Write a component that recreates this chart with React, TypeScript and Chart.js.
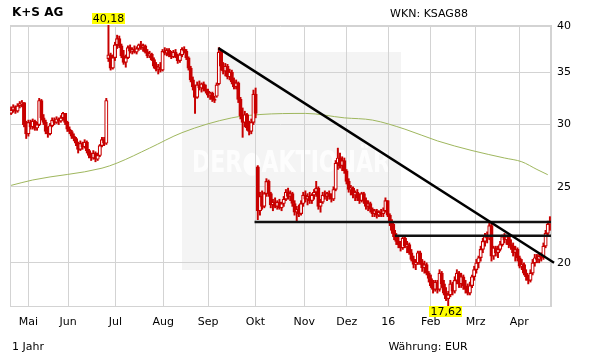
import React, { useEffect, useRef } from 'react';
import { Chart, registerables } from 'chart.js';

Chart.register(...registerables);

const FONT = '"DejaVu Sans", Verdana, sans-serif';

// ---- Data (trading-day index 0..249) ----
const opens = [
  31.0,31.3,31.6,31.2,31.7,31.9,32.0,30.0,29.2,30.2, 29.8,30.3,29.7,30.0,32.2,30.6,30.2,29.4,29.2,29.9,
  30.4,30.2,30.5,30.3,30.6,31.0,30.2,29.6,29.4,29.0, 28.8,28.4,27.9,28.4,28.1,28.5,27.8,27.4,27.2,27.6,
  27.1,27.4,28.2,28.7,28.4, 36.4,36.8,35.4,36.5,37.9,
  38.6,37.8,36.7,36.0,36.5,37.6,37.2,37.4,37.1,37.5, 37.9,37.6,37.8,37.1,36.7,36.9,36.3,35.6,35.3,35.5,
  35.2,37.2,37.0,37.3,36.8,36.6,37.1,36.7,36.2,36.8, 37.4,37.2,36.5,35.4,34.2,33.5,32.5,33.7,33.4,33.8,
  33.3,33.1,32.7,32.9,32.3,32.6,33.8,37.1,35.6,35.1, 35.6,34.5,35.0,34.0,33.5,33.9,32.3,30.8,30.2,30.9,
  29.7,29.4,30.2,32.8,26.5,23.3,24.3,23.6,24.5,25.4, 24.5,23.7,23.9,23.6,23.9,23.5,23.8,24.1,24.6,24.3,
  24.5,23.8,23.2,23.4,23.1,23.8,24.4,24.1,24.3,24.0, 24.4,24.6,24.9,23.6,23.9,24.4,24.3,24.5,24.3,24.1,
  24.8,26.8,27.2,26.6,27.0,26.2,25.4,24.8,24.9,24.4, 24.6,24.2,24.0,24.5,24.0,23.6,23.8,23.4,23.1,23.3,
  23.0,23.2,23.1,23.3,24.0,23.0,22.5,22.0,21.6,21.3, 21.1,20.9,21.5,21.0,21.1,20.6,20.2,19.9,20.0,20.6,
  20.0,19.7,19.9,19.4,19.1,18.7,18.5,18.9,18.5,19.4, 18.8,18.3,18.0,18.2,18.8,18.4,19.0,19.4,18.8,19.2,
  18.7,18.5,18.3,18.7,19.2,19.6,20.0,20.3,20.8,21.3, 21.6,21.5,22.3,20.4,20.9,20.6,20.8,21.1,21.6,21.4,
  21.6,21.1,21.0,20.6,20.8,20.3,19.8,19.9,19.4,19.2, 19.0,19.4,20.0,20.3,20.2,20.4,20.3,21.0,21.8,22.4,
];
const highs = [
  31.6,31.8,31.7,31.9,32.1,32.2,32.0,30.3,30.4,30.4, 30.5,30.4,30.2,32.4,32.3,30.9,30.4,29.8,30.1,30.6,
  30.6,30.7,30.6,30.8,31.1,31.0,30.3,29.8,29.5,29.2, 28.9,28.5,28.6,28.5,28.7,28.6,27.9,27.6,27.8,27.7,
  27.6,28.3,28.9,28.9,32.4, 40.18,37.0,36.8,38.2,39.0,
  38.9,38.0,37.3,36.8,37.8,37.9,37.6,37.8,37.7,38.0, 38.3,38.0,37.9,37.4,37.2,37.0,36.5,36.0,35.8,36.0,
  37.4,37.6,37.5,37.5,37.2,37.3,37.4,36.9,37.0,37.6, 37.7,37.4,36.6,35.6,34.5,33.7,34.0,34.1,33.9,34.0,
  33.7,33.3,33.0,33.0,32.6,33.9,37.6,37.3,36.0,35.9, 35.8,35.3,35.2,34.4,34.2,34.0,32.5,31.5,31.2,31.0,
  30.3,30.5,33.2,33.4,26.6,24.6,24.7,24.6,25.6,25.5, 24.6,24.1,24.2,24.0,24.1,23.9,24.3,24.8,24.9,24.7,
  24.6,24.0,23.6,23.7,24.0,24.6,24.7,24.5,24.6,24.5, 24.8,25.4,25.0,24.1,24.6,24.7,24.6,24.7,24.5,25.0,
  27.0,28.0,27.6,27.3,27.2,26.3,25.6,25.1,25.0,24.7, 24.8,24.5,24.6,24.6,24.2,24.0,23.9,23.5,23.4,23.4,
  23.3,23.4,23.5,24.2,24.0,23.1,22.7,22.4,21.8,21.6, 21.3,21.6,21.6,21.3,21.2,20.8,20.4,20.2,20.7,20.7,
  20.2,20.1,20.0,19.5,19.3,19.0,19.0,19.0,19.6,19.5, 19.0,18.6,18.4,19.0,18.9,19.2,19.6,19.5,19.4,19.3,
  19.0,18.8,18.9,19.3,19.8,20.2,20.4,21.0,21.5,21.8, 21.9,22.5,22.4,21.0,21.0,21.0,21.3,21.7,21.8,21.7,
  21.7,21.4,21.2,21.0,20.9,20.4,20.2,20.0,19.6,19.3, 19.6,20.2,20.5,20.5,20.5,20.6,21.2,22.0,22.6,22.9,
];
const lows = [
  30.9,31.1,31.0,31.1,31.5,31.6,29.8,28.8,29.0,29.6, 29.6,29.5,29.5,29.9,30.4,30.0,29.2,28.9,29.1,29.8,
  30.0,30.1,30.0,30.2,30.4,30.0,29.4,29.2,28.8,28.6, 28.2,27.6,27.8,27.9,28.0,27.6,27.2,27.0,27.1,26.9,
  27.0,27.3,28.1,28.2,28.3, 36.1,35.2,35.3,36.2,37.5,
  37.6,36.5,35.8,35.5,36.4,37.0,36.9,37.0,36.9,37.3, 37.4,37.2,37.0,36.5,36.5,36.2,35.4,35.1,34.8,35.0,
  35.1,36.8,36.7,36.6,36.4,36.5,36.5,35.9,36.0,36.6, 37.0,36.3,35.2,34.0,33.2,31.0,32.4,33.2,33.0,33.1,
  32.9,32.5,32.3,32.1,32.0,32.5,33.7,35.2,34.8,34.6, 34.3,34.2,33.8,33.3,33.3,32.0,30.5,28.9,29.8,29.5,
  29.1,29.2,30.0,30.6,22.7,23.0,23.4,23.5,24.3,24.3, 23.5,23.3,23.5,23.4,23.4,23.3,23.6,24.0,24.1,24.0,
  23.6,23.0,22.6,22.9,23.0,23.6,23.9,23.7,23.8,23.8, 24.1,24.3,23.4,23.2,23.8,24.1,24.0,24.1,23.9,24.0,
  24.7,26.3,26.4,26.2,26.0,25.2,24.6,24.4,24.2,24.0, 24.0,23.8,23.9,23.8,23.4,23.3,23.2,22.9,22.9,22.8,
  22.9,22.9,22.9,23.2,22.9,22.3,21.8,21.4,21.1,20.9, 20.7,20.8,20.9,20.6,20.5,20.1,19.7,19.6,19.9,19.9,
  19.5,19.4,19.3,18.9,18.6,18.3,18.4,18.3,18.4,18.6, 18.2,17.9,17.62,18.1,18.2,18.3,18.8,18.6,18.6,18.5,
  18.3,18.2,18.2,18.6,19.0,19.4,19.7,20.1,20.6,21.0, 21.2,21.4,20.1,20.2,20.4,20.3,20.7,21.0,21.2,21.1,
  20.9,20.8,20.4,20.1,20.1,19.7,19.6,19.3,19.0,18.8, 18.9,19.3,19.8,20.0,20.0,20.1,20.2,20.9,21.7,22.0,
];
const closes = [
  31.3,31.6,31.2,31.7,31.9,32.0,30.0,29.2,30.2,29.8, 30.3,29.7,30.0,32.2,30.6,30.2,29.4,29.2,29.9,30.4,
  30.2,30.5,30.3,30.6,31.0,30.2,29.6,29.4,29.0,28.8, 28.4,27.9,28.4,28.1,28.5,27.8,27.4,27.2,27.6,27.1,
  27.4,28.2,28.7,28.4,32.2, 36.8,35.4,36.5,37.9,38.6,
  37.8,36.7,36.0,36.5,37.6,37.2,37.4,37.1,37.5,37.9, 37.6,37.8,37.1,36.7,36.9,36.3,35.6,35.3,35.5,35.2,
  37.2,37.0,37.3,36.8,36.6,37.1,36.7,36.2,36.8,37.4, 37.2,36.5,35.4,34.2,33.5,32.5,33.7,33.4,33.8,33.3,
  33.1,32.7,32.9,32.3,32.2,33.7,37.1,35.6,35.1,35.6, 34.5,35.0,34.0,33.5,33.9,32.3,30.8,30.2,30.9,29.7,
  29.4,30.2,32.8,31.0,23.3,24.3,23.6,24.5,25.4,24.5, 23.7,23.9,23.6,23.9,23.5,23.8,24.1,24.6,24.3,24.5,
  23.8,23.2,23.4,23.1,23.8,24.4,24.1,24.3,24.0,24.4, 24.6,24.9,23.6,23.9,24.4,24.3,24.5,24.3,24.1,24.8,
  26.8,27.2,26.6,27.0,26.2,25.4,24.8,24.9,24.4,24.6, 24.2,24.0,24.5,24.0,23.6,23.8,23.4,23.1,23.3,23.0,
  23.2,23.1,23.3,24.0,23.0,22.5,22.0,21.6,21.3,21.1, 20.9,21.5,21.0,21.1,20.6,20.2,19.9,20.0,20.6,20.0,
  19.7,19.9,19.4,19.1,18.7,18.5,18.9,18.5,19.4,18.8, 18.3,18.0,18.2,18.8,18.4,19.0,19.4,18.8,19.2,18.7,
  18.5,18.3,18.7,19.2,19.6,20.0,20.3,20.8,21.3,21.6, 21.5,22.3,20.4,20.9,20.6,20.8,21.1,21.6,21.4,21.6,
  21.1,21.0,20.6,20.8,20.3,19.8,19.9,19.4,19.2,19.0, 19.4,20.0,20.3,20.2,20.4,20.3,21.0,21.8,22.4,22.6,
];

// 200-day moving average (sampled)
const maX = [0, 10, 42, 49, 64, 79, 102, 115, 136, 154, 167, 182, 197, 213, 228, 236, 243, 248];
const maY = [25.1, 25.5, 26.4, 26.8, 28.0, 29.3, 30.6, 30.9, 31.0, 30.6, 30.4, 29.6, 28.6, 27.8, 27.2, 26.9, 26.3, 25.9];

// Trend lines
const trendX = [95.8, 250.9];
const trendY = [37.55, 20.0];
const supportLevels = [22.55, 21.66];
const supportStarts = [112.5, 177.4];
const supportEnd = 249.5;

// Axes
const monthTicks = [8, 26.4, 48.2, 70.3, 91.1, 112.9, 135.5, 155.1, 174.3, 193.9, 214.7, 234.85];
const monthLabels = ['Mai', 'Jun', 'Jul', 'Aug', 'Sep', 'Okt', 'Nov', 'Dez', '16', 'Feb', 'Mrz', 'Apr'];
const yTicks = [20, 25, 30, 35, 40];

const RED = '#c80000';
const GRID = '#d3d3d3';

const fmt = (v: number) => v.toFixed(2).replace('.', ',');

const decor = {
  id: 'decor',
  beforeDraw(chart: any) {
    const { ctx } = chart;
    ctx.save();
    ctx.fillStyle = '#ffffff';
    ctx.fillRect(0, 0, chart.width, chart.height);
    // watermark
    ctx.fillStyle = '#f4f4f4';
    ctx.fillRect(182, 52, 219, 218);
    ctx.fillStyle = '#fdfdfd';
    ctx.font = `bold 30px ${FONT}`;
    ctx.textAlign = 'center';
    ctx.textBaseline = 'alphabetic';
    ctx.fillText('DER●AKTIONÄR', 291, 172, 198);
    ctx.restore();
  },
  beforeDatasetsDraw(chart: any) {
    const { ctx, chartArea: a } = chart;
    ctx.save();
    ctx.strokeStyle = GRID;
    ctx.lineWidth = 1;
    ctx.strokeRect(Math.round(a.left) + 0.5, Math.round(a.top) + 0.5, Math.round(a.right - a.left) - 1, Math.round(a.bottom - a.top));
    ctx.restore();
  },
  afterDraw(chart: any) {
    const { ctx, chartArea: a } = chart;
    const xs = chart.scales.x;
    ctx.save();
    ctx.fillStyle = '#000';
    ctx.textBaseline = 'middle';
    ctx.font = `bold 12px ${FONT}`;
    ctx.textAlign = 'left';
    ctx.fillText('K+S AG', 12, 13);
    ctx.font = `11px ${FONT}`;
    ctx.textAlign = 'center';
    ctx.fillText('WKN: KSAG88', 429, 14);
    ctx.textAlign = 'left';
    ctx.fillText('1 Jahr', 12, 347);
    ctx.textAlign = 'center';
    ctx.fillText('Währung: EUR', 428, 347);

    // max / min labels
    let iMax = 0, iMin = 0;
    highs.forEach((v, i) => { if (v > highs[iMax]) iMax = i; });
    lows.forEach((v, i) => { if (v < lows[iMin]) iMin = i; });
    const drawTag = (text: string, cx: number, top: number) => {
      const w = ctx.measureText(text).width + 2;
      ctx.fillStyle = '#ffff00';
      ctx.fillRect(Math.round(cx - w / 2), top, Math.round(w), 11);
      ctx.fillStyle = '#000';
      ctx.fillText(text, cx, top + 6);
    };
    drawTag(fmt(highs[iMax]), xs.getPixelForValue(iMax), Math.round(a.top) - 12);
    drawTag(fmt(lows[iMin]), xs.getPixelForValue(iMin) - 2, Math.round(a.bottom));
    ctx.restore();
  },
};

export default function App() {
  const ref = useRef<HTMLCanvasElement>(null);
  useEffect(() => {
    document.body.style.margin = '0';
    const canvas = ref.current!;
    const idx = closes.map((_, i) => i);
    const wickData = idx.map((i) => ({ x: i, y: [lows[i], highs[i]] }));
    const bodyData = idx.map((i) => ({ x: i, y: [Math.min(opens[i], closes[i]), Math.max(opens[i], closes[i])] }));
    const bodyFill = idx.map((i) => (closes[i] > opens[i] ? '#ffffff' : RED));
    const maData = maX.map((x, i) => ({ x, y: maY[i] }));
    const trendData = trendX.map((x, i) => ({ x, y: trendY[i] }));
    const supportData = supportLevels.map((lvl, k) => [
      { x: supportStarts[k], y: lvl },
      { x: supportEnd, y: lvl },
    ]);

    const chart = new Chart(canvas, {
      type: 'bar',
      data: {
        datasets: [
          {
            type: 'line',
            data: maData,
            borderColor: '#9fb75e',
            borderWidth: 1,
            pointRadius: 0,
            cubicInterpolationMode: 'monotone',
            order: 10,
          } as any,
          {
            type: 'bar',
            data: wickData,
            backgroundColor: RED,
            barThickness: 1.3,
            grouped: false,
            order: 6,
          } as any,
          {
            type: 'bar',
            data: bodyData,
            backgroundColor: bodyFill,
            borderColor: RED,
            borderWidth: 1.2,
            borderSkipped: false,
            barThickness: 3.4,
            minBarLength: 1,
            grouped: false,
            order: 5,
          } as any,
          ...supportData.map((d) => ({
            type: 'line',
            data: d,
            borderColor: '#111111',
            borderWidth: 2.5,
            pointRadius: 0,
            order: 2,
          } as any)),
          {
            type: 'line',
            data: trendData,
            borderColor: '#000000',
            borderWidth: 2.5,
            pointRadius: 0,
            clip: false,
            order: 1,
          } as any,
        ],
      },
      options: {
        responsive: false,
        animation: false,
        devicePixelRatio: 1,
        layout: { padding: { left: 10, top: 25, right: 0, bottom: 0 } },
        plugins: { legend: { display: false }, tooltip: { enabled: false } },
        scales: {
          x: {
            type: 'linear',
            min: -0.5,
            max: 249.5,
            offset: false,
            afterFit: (s: any) => { s.height = 58; },
            afterBuildTicks: (s: any) => { s.ticks = monthTicks.map((v) => ({ value: v })); },
            grid: { color: GRID, drawTicks: false, offset: false },
            border: { color: GRID },
            ticks: {
              autoSkip: false,
              maxRotation: 0,
              padding: 10,
              color: '#000',
              font: { family: FONT, size: 11 },
              callback: (v: any) => {
                const k = monthTicks.indexOf(Number(v));
                return k >= 0 ? monthLabels[k] : '';
              },
            },
          },
          y: {
            type: 'logarithmic',
            position: 'right',
            min: 17.62,
            max: 40.18,
            afterFit: (s: any) => { s.width = 60; },
            afterBuildTicks: (s: any) => { s.ticks = yTicks.map((v) => ({ value: v })); },
            grid: { color: GRID, drawTicks: false },
            border: { color: GRID },
            ticks: {
              padding: 6,
              color: '#000',
              font: { family: FONT, size: 11 },
              callback: (v: any) => String(v),
            },
          },
        },
      } as any,
      plugins: [decor],
    });
    return () => chart.destroy();
  }, []);

  return (
    <canvas
      ref={ref}
      width={611}
      height={364}
      style={{ position: 'absolute', left: 0, top: 0, width: 611, height: 364 }}
    />
  );
}
